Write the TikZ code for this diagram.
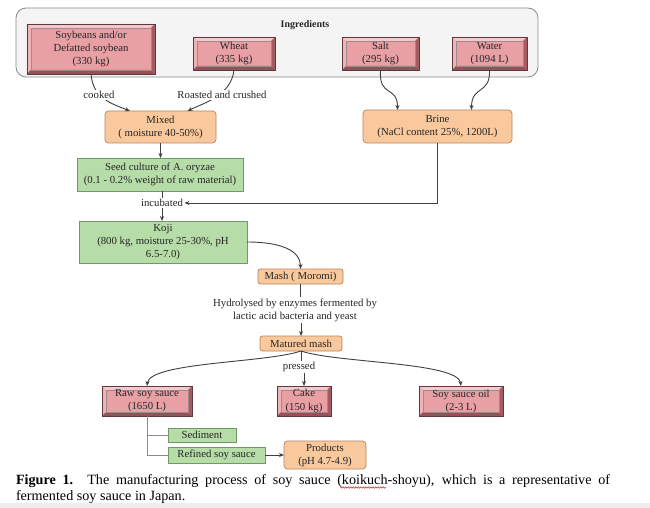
\documentclass[tikz,border=0pt]{standalone}
\usepackage{fontspec}
\setmainfont{Liberation Serif}
\usetikzlibrary{arrows.meta,decorations.pathmorphing}
\definecolor{txt}{HTML}{262626}
\definecolor{pinkfill}{HTML}{E8A0A5}
\definecolor{bevtop}{HTML}{F4C8CC}
\definecolor{bevleft}{HTML}{EDB3B7}
\definecolor{bevright}{HTML}{A85A61}
\definecolor{bevbot}{HTML}{985058}
\definecolor{bevborder}{HTML}{5E3A3D}
\definecolor{orfill}{HTML}{F9C89C}
\definecolor{orborder}{HTML}{B58560}
\definecolor{grfill}{HTML}{B6DCA8}
\definecolor{grborder}{HTML}{6E9A66}
\definecolor{contfill}{HTML}{F4F4F4}
\definecolor{contborder}{HTML}{8A8A8A}
\definecolor{linecol}{HTML}{404040}
\definecolor{glinecol}{HTML}{8C8C8C}
\definecolor{barcol}{HTML}{EDEDED}
\definecolor{squig}{HTML}{D02020}
\newcommand\dfont{\fontsize{10.8}{13.2}\selectfont}
\newcommand\capfont{\fontsize{14.2}{16}\selectfont}
\tikzset{
  base/.style={inner sep=0pt, outer sep=0pt, align=center, font=\dfont, text=txt},
  bevel/.style={base, draw=bevborder, line width=0.7bp, fill=pinkfill,
    path picture={
      \path (path picture bounding box.north west) coordinate (bvnw)
            (path picture bounding box.north east) coordinate (bvne)
            (path picture bounding box.south west) coordinate (bvsw)
            (path picture bounding box.south east) coordinate (bvse);
      \fill[bevtop] (bvnw) -- (bvne) -- ([shift={(-4bp,-4bp)}]bvne) -- ([shift={(4bp,-4bp)}]bvnw) -- cycle;
      \fill[bevleft] (bvnw) -- (bvsw) -- ([shift={(4bp,4bp)}]bvsw) -- ([shift={(4bp,-4bp)}]bvnw) -- cycle;
      \fill[bevright] (bvne) -- (bvse) -- ([shift={(-4bp,4bp)}]bvse) -- ([shift={(-4bp,-4bp)}]bvne) -- cycle;
      \fill[bevbot] (bvsw) -- (bvse) -- ([shift={(-4bp,4bp)}]bvse) -- ([shift={(4bp,4bp)}]bvsw) -- cycle;
      \draw[bevborder!60, line width=0.3bp] ([shift={(4bp,-4bp)}]bvnw) rectangle ([shift={(-4bp,4bp)}]bvse);
    }},
  orbox/.style={base, draw=orborder, line width=0.7bp, fill=orfill, rounded corners=3.5bp},
  grbox/.style={base, draw=grborder, line width=0.7bp, fill=grfill},
  lbl/.style={base, fill=white, inner sep=1.5bp},
  conn/.style={draw=linecol, line width=0.9bp},
  arr/.style={conn, -{Stealth[length=5bp,width=4bp]}},
  gconn/.style={draw=glinecol, line width=0.9bp},
}
\begin{document}
\begin{tikzpicture}[x=1bp, y=-1bp]
\useasboundingbox (0,0) rectangle (650,508);
\fill[white] (0,0) rectangle (650,508);
\fill[barcol] (0,503) rectangle (650,508);

% Ingredients container
\draw[draw=contborder, fill=contfill, line width=0.8bp, rounded corners=10bp] (16,8) rectangle (538,77);
\node[base, font=\fontsize{10}{12}\selectfont\bfseries] (ingr) at (305,25) {Ingredients};

% Ingredients
\node[bevel, minimum width=128bp, minimum height=50bp] (soy) at (91,49) {Soybeans and/or\\Defatted soybean\\(330 kg)};
\node[bevel, minimum width=82bp, minimum height=33bp] (wheat) at (234,53.5) {Wheat\\(335 kg)};
\node[bevel, minimum width=77bp, minimum height=33bp] (salt) at (380.5,53.5) {Salt\\(295 kg)};
\node[bevel, minimum width=75bp, minimum height=33bp] (water) at (489.5,53.5) {Water\\(1094 L)};

% Process
\node[orbox, minimum width=111bp, minimum height=32bp] (mixed) at (160.5,127) {Mixed\\( moisture 40-50\%)};
\node[orbox, minimum width=149bp, minimum height=33bp] (brine) at (437.5,126.5) {Brine\\(NaCl content 25\%, 1200L)};
\node[grbox, minimum width=166bp, minimum height=33bp] (seed) at (160,174.5) {Seed culture of A. oryzae\\(0.1 - 0.2\% weight of raw material)};
\node[lbl] (incub) at (162,203) {incubated};
\node[grbox, minimum width=168bp, minimum height=42bp] (koji) at (163,242) {Koji\\(800 kg, moisture 25-30\%, pH\\6.5-7.0)};
\node[orbox, minimum width=85bp, minimum height=15bp, rounded corners=2.5bp] (mash) at (300.5,276.5) {Mash ( Moromi)};
\node[lbl] (hyd) at (295,310) {Hydrolysed by enzymes fermented by\\lactic acid bacteria and yeast};
\node[orbox, minimum width=82bp, minimum height=15bp, rounded corners=2.5bp] (matured) at (301,343.5) {Matured mash};

% Products of pressing
\node[bevel, minimum width=90bp, minimum height=30bp] (raw) at (147,401) {Raw soy sauce\\(1650 L)};
\node[bevel, minimum width=54bp, minimum height=30bp] (cake) at (304,401) {Cake\\(150 kg)};
\node[bevel, minimum width=84bp, minimum height=30bp] (oil) at (461,401) {Soy sauce oil\\(2-3 L)};
\node[grbox, minimum width=68bp, minimum height=14bp] (sed) at (202,435) {Sediment};
\node[grbox, minimum width=97bp, minimum height=16bp] (ref) at (216.5,455) {Refined soy sauce};
\node[orbox, minimum width=82bp, minimum height=28bp] (prod) at (325,455) {Products\\(pH 4.7-4.9)};

% Connectors (top)
\draw[arr] (soy.south) .. controls +(2,24) and +(-20,-8) .. ([xshift=-30.5bp]mixed.north);
\draw[arr] (wheat.south) .. controls +(-3,26) and +(16,-8) .. ([xshift=27bp]mixed.north);
\node[lbl] (cooked) at (99,95) {cooked};
\node[lbl] (roast) at (222,95) {Roasted and crushed};
\draw[arr] (salt.south) .. controls +(-2,28) and +(0,-25) .. ([xshift=-40bp]brine.north);
\draw[arr] (water.south) .. controls +(1,25) and +(0,-25) .. ([xshift=34bp]brine.north);

\draw[arr] (mixed.south) -- (mixed.south |- seed.north);
\draw[conn] (incub.north |- seed.south) -- (incub.north);
\draw[arr] (incub.south) -- (incub.south |- koji.north);
\draw[arr] (brine.south) |- (incub.east);
\draw[arr] (koji.east) .. controls +(35,0) and +(0,-18) .. (mash.north);
\draw[conn] (mash.south) -- (mash.south |- hyd.north);
\draw[arr] (matured.north |- hyd.south) -- (matured.north);

% Pressing
\draw[arr] (matured.south) .. controls +(-35,12) and +(3,-24) .. (raw.north);
\draw[arr] (matured.south) .. controls +(35,12) and +(-3,-24) .. (oil.north);
\node[lbl] (pressed) at (299,367) {pressed};
\draw[conn] (matured.south) -- (matured.south |- pressed.north);
\draw[arr] (cake.north |- pressed.south) -- (cake.north);

\draw[gconn] (raw.south) |- (sed.west);
\draw[gconn] (raw.south) |- (ref.west);
\draw[arr] (ref.east) -- (prod.west);

% Caption
\node[base, font=\capfont, text=black, anchor=base west] (cap1) at (16,484)
  {\makebox[594bp][s]{\textbf{Figure 1.} The manufacturing process of soy sauce (koikuch-shoyu), which is a representative of}};
\node[base, font=\capfont, text=black, anchor=base west] (cap2) at (16,500) {fermented soy sauce in Japan.};
\coordinate (sq1) at (340,487.5);
\coordinate (sq2) at (386,487.5);
\draw[squig, line width=0.5bp, decorate, decoration={snake, segment length=2.5bp, amplitude=0.7bp}] (sq1) -- (sq2);
\end{tikzpicture}
\end{document}
